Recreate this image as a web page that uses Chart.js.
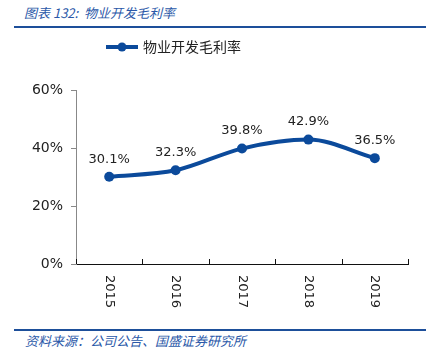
<!DOCTYPE html>
<html><head><meta charset="utf-8">
<script src="https://cdn.jsdelivr.net/npm/chart.js@4/dist/chart.umd.min.js"></script>
<style>
html,body{margin:0;padding:0;background:#fff;width:435px;height:361px;overflow:hidden;}
#wrap{position:absolute;left:0;top:0;width:435px;height:361px;}
.t{position:absolute;font-family:"Noto Sans CJK SC",sans-serif;font-style:italic;color:#2a58a8;font-size:13px;white-space:nowrap;}
.rule{position:absolute;height:2px;background:#1d4f9a;}
</style></head>
<body>
<div class="t" style="left:24px;top:3px;">图表 132:&nbsp; 物业开发毛利率</div>
<div class="rule" style="left:14px;top:26px;width:412px;"></div>
<div class="rule" style="left:14px;top:329px;width:412px;"></div>
<div class="t" style="left:25px;top:331px;font-size:13px;">资料来源：公司公告、国盛证券研究所</div>
<div id="wrap"><canvas id="c" width="435" height="361"></canvas></div>
<script>
const categories = ["2015","2016","2017","2018","2019"];
const margin = [30.1, 32.3, 39.8, 42.9, 36.5];
const yTicks = [0, 20, 40, 60];
const seriesName = "物业开发毛利率";
const color = "#0b4a9b";

const decor = {
  id: 'decor',
  afterDraw(chart) {
    const ctx = chart.ctx;
    const meta = chart.getDatasetMeta(0);
    ctx.save();
    ctx.font = '13px "DejaVu Sans", Verdana, sans-serif';
    ctx.fillStyle = '#222';
    ctx.textAlign = 'center';
    ctx.textBaseline = 'bottom';
    meta.data.forEach((p, i) => {
      ctx.fillText(margin[i].toFixed(1) + '%', p.x, p.y - 11);
    });
    const xs = chart.scales.x;
    ctx.font = '13px "DejaVu Sans", Verdana, sans-serif';
    categories.forEach((c, i) => {
      const x = xs.getPixelForTick(i);
      ctx.save();
      ctx.translate(x, xs.top + 11);
      ctx.rotate(Math.PI / 2);
      ctx.textAlign = 'left';
      ctx.textBaseline = 'middle';
      ctx.fillText(c, 0, 0);
      ctx.restore();
    });
    ctx.strokeStyle = color;
    ctx.lineWidth = 4;
    ctx.beginPath();
    ctx.moveTo(106, 47); ctx.lineTo(138, 47); ctx.stroke();
    ctx.fillStyle = color;
    ctx.beginPath(); ctx.arc(122, 47, 4.5, 0, Math.PI * 2); ctx.fill();
    ctx.font = '14px "Noto Sans CJK SC", sans-serif';
    ctx.fillStyle = '#222';
    ctx.textAlign = 'left';
    ctx.textBaseline = 'middle';
    ctx.fillText(seriesName, 143, 47);
    ctx.restore();
  }
};

new Chart(document.getElementById('c'), {
  type: 'line',
  data: {
    labels: categories,
    datasets: [{
      label: seriesName,
      data: margin,
      borderColor: color,
      backgroundColor: color,
      borderWidth: 4,
      pointRadius: 5,
      pointHoverRadius: 5,
      pointBackgroundColor: color,
      pointBorderWidth: 0,
      cubicInterpolationMode: 'monotone',
      fill: false
    }]
  },
  options: {
    responsive: false,
    animation: false,
    events: [],
    layout: { padding: { top: 90, right: 27, left: 0, bottom: 0 } },
    plugins: { legend: { display: false }, tooltip: { enabled: false } },
    scales: {
      x: {
        offset: true,
        grid: { display: true, drawOnChartArea: false, drawTicks: true, tickLength: 0, color: 'transparent' },
        border: { display: true, color: '#111', width: 1 },
        ticks: { display: false },
        afterFit(s) { s.height = 361 - 264; }
      },
      y: {
        min: 0, max: 60,
        afterBuildTicks(s) { s.ticks = yTicks.map(v => ({ value: v })); },
        grid: { drawOnChartArea: false, drawTicks: true, tickLength: 5, color: '#888' },
        border: { display: true, color: '#888', width: 1 },
        ticks: {
          padding: 8,
          color: '#222',
          font: { family: '"DejaVu Sans", Verdana, sans-serif', size: 14 },
          callback: v => v + '%'
        },
        afterFit(s) { s.width = 76; }
      }
    }
  },
  plugins: [decor, {
    id: 'xticks',
    afterDraw(chart) {
      const xs = chart.scales.x, ctx = chart.ctx;
      ctx.save();
      ctx.strokeStyle = '#111'; ctx.lineWidth = 1;
      for (let i = 0; i <= categories.length; i++) {
        const x = Math.round(xs.left + (xs.right - xs.left) * i / categories.length) + 0.5;
        ctx.beginPath(); ctx.moveTo(x, xs.top - 5); ctx.lineTo(x, xs.top); ctx.stroke();
      }
      ctx.restore();
    }
  }]
});
</script>
</body></html>
